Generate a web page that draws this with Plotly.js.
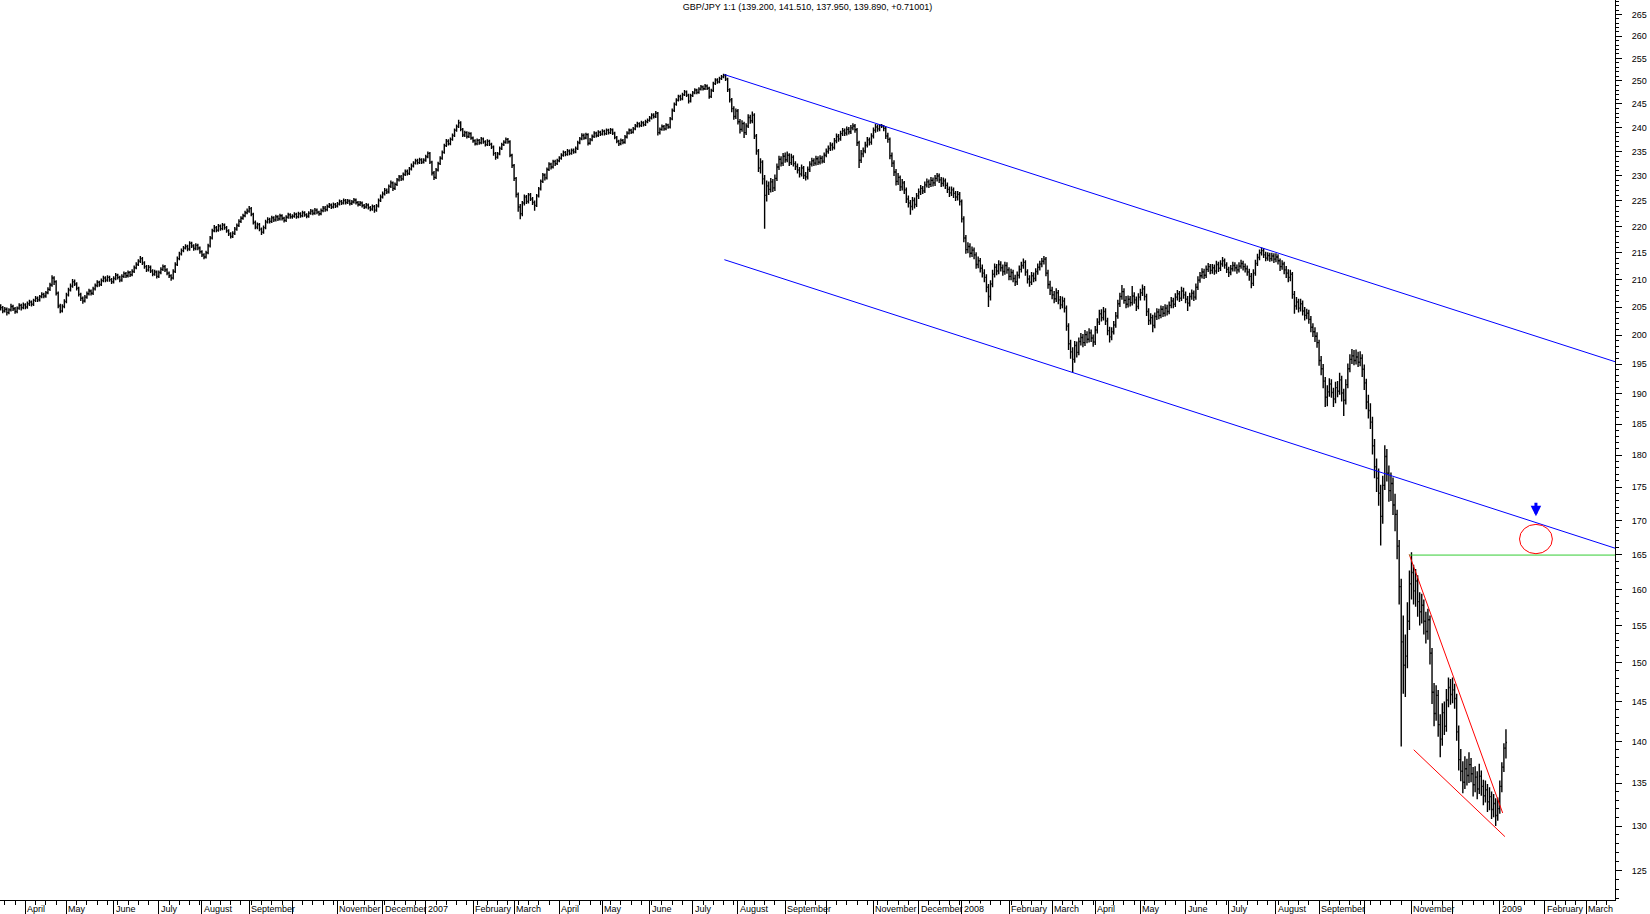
<!DOCTYPE html>
<html><head><meta charset="utf-8">
<script src="https://cdn.plot.ly/plotly-3.0.1.min.js"></script>
<style>html,body{margin:0;padding:0;background:#fff;overflow:hidden}#chart{width:1650px;height:914px}</style>
</head><body><div id="chart"></div>
<script>
// GBP/JPY daily bars, 16 Mar 2006 .. 6 Jan 2009 (one bar per weekday)
const open = [205.0,
204.9,204.3,204.6,204.0,204.5,205.1,204.7,204.2,204.8,205.3,204.9,205.4,
205.0,205.6,205.9,205.5,206.2,206.6,206.3,206.9,207.3,207.0,207.6,208.2,
209.0,210.3,209.6,207.5,205.2,204.3,205.1,206.0,
207.2,208.1,208.8,209.6,209.2,208.4,207.3,206.6,206.1,206.8,207.4,207.9,207.5,208.3,208.9,209.5,209.1,209.8,210.3,209.9,210.4,210.0,209.6,
210.2,210.8,210.4,209.9,210.6,211.1,210.7,211.3,210.9,211.5,212.2,212.8,213.4,213.9,213.1,212.4,211.8,212.3,211.6,211.0,211.4,210.6,
211.3,211.9,212.4,211.8,211.2,210.7,210.3,211.5,212.8,213.9,214.8,215.4,215.9,216.2,215.7,216.8,216.3,215.8,216.4,215.9,215.2,
214.6,214.2,215.0,216.3,217.8,219.2,219.8,219.3,220.1,219.6,220.3,219.8,219.2,218.6,218.1,218.7,219.5,220.2,221.0,221.6,222.1,222.7,223.0,
223.5,222.4,220.8,219.9,220.4,219.5,218.9,219.8,220.9,221.4,221.0,221.7,221.3,221.9,221.5,222.1,221.6,221.2,221.8,222.3,221.9,
222.0,222.4,221.9,222.5,222.1,222.7,222.3,222.0,222.6,223.0,222.6,223.2,222.8,222.5,223.1,223.6,223.3,223.9,224.2,223.8,224.3,224.0,
224.4,224.9,224.6,225.1,224.7,225.0,224.5,224.8,225.2,224.7,224.3,224.6,224.1,223.8,224.2,223.7,223.4,223.9,223.2,224.0,225.1,225.8,
226.4,227.1,226.8,227.9,228.6,227.5,228.3,229.2,229.8,229.4,230.3,230.9,230.5,231.4,232.0,232.6,233.1,232.7,233.3,232.8,233.2,
233.9,234.6,232.8,230.6,229.7,231.2,232.5,233.6,234.8,236.2,237.1,236.6,237.5,238.3,239.4,240.2,241.0,239.6,238.4,238.9,238.1,238.7,237.8,
237.2,236.6,237.3,236.8,237.6,237.0,236.4,237.1,236.5,235.9,234.6,233.8,234.5,235.6,236.4,236.9,237.5,237.0,234.2,232.1,
229.5,226.3,223.8,222.5,224.6,225.8,224.9,226.2,225.4,224.7,224.1,226.0,227.4,228.9,230.2,229.6,231.3,232.4,231.8,232.9,232.5,233.1,
233.6,234.2,234.8,234.4,235.1,234.6,235.2,234.9,235.6,236.8,237.6,238.3,237.8,238.5,236.7,237.4,238.1,238.8,238.3,239.0,238.6,
239.2,238.7,239.4,238.9,239.5,238.8,237.9,237.1,236.6,237.3,236.9,238.0,238.8,239.4,239.0,239.7,240.3,240.8,240.4,241.0,240.6,241.2,241.5,
242.0,242.6,242.3,243.0,238.9,239.6,240.2,239.7,240.5,240.1,241.8,243.6,244.9,245.8,246.6,246.1,247.0,247.6,246.9,245.6,246.8,
247.4,248.0,247.5,248.2,248.7,248.3,248.9,248.4,246.6,247.9,249.4,250.2,249.8,250.5,250.9,251.2,250.4,248.1,245.9,244.0,242.3,243.5,
241.2,239.6,240.8,238.9,240.3,242.1,241.4,242.6,238.2,235.1,231.6,232.8,229.4,226.1,228.0,227.3,228.8,227.6,229.5,231.8,233.4,232.6,234.0,
233.3,234.2,232.7,233.8,232.5,231.9,231.2,230.4,231.6,230.1,229.8,231.3,232.4,233.1,232.6,233.5,232.8,233.6,233.0,234.2,
235.0,235.6,236.3,235.8,237.2,238.1,237.6,238.7,239.3,238.8,239.6,239.1,239.9,240.3,239.5,236.8,233.2,234.5,235.1,236.3,237.4,236.9,238.2,
239.4,240.1,239.7,240.4,240.3,239.8,238.2,237.5,234.1,232.6,230.8,228.9,229.7,227.8,228.6,227.2,225.4,224.6,223.9,225.1,224.3,226.0,
226.8,227.5,227.0,228.2,228.8,228.3,229.1,228.6,229.5,230.0,229.2,228.5,229.0,228.1,227.3,226.6,227.2,226.5,225.8,226.3,224.9,
221.5,217.8,215.6,216.2,214.9,215.5,214.6,212.8,213.5,212.1,211.2,210.4,208.6,206.9,209.2,211.0,212.3,211.6,212.8,212.2,211.5,212.6,211.8,
210.6,211.3,210.2,209.6,210.8,211.9,212.6,213.2,211.4,210.1,209.5,210.7,210.2,211.5,212.3,212.9,213.4,213.8,211.2,209.1,208.0,
207.2,206.5,207.6,206.3,205.4,206.1,204.8,201.6,198.5,197.1,195.8,198.2,197.0,198.9,199.6,198.7,200.1,199.3,200.4,199.5,198.8,
200.9,202.3,203.8,203.1,204.2,202.5,200.8,199.7,200.6,201.8,203.4,205.6,206.9,207.8,206.2,205.5,206.4,205.8,207.0,206.3,205.1,206.8,
207.6,208.3,206.9,204.2,202.6,203.1,201.7,203.3,204.1,203.5,204.6,203.9,204.8,204.2,205.3,206.1,205.5,206.8,207.4,206.6,207.9,207.2,
206.4,205.7,206.9,207.5,206.8,208.6,209.9,210.7,211.4,210.8,211.9,212.4,211.7,212.2,211.6,212.8,212.1,212.9,213.5,212.7,211.9,
211.3,212.0,212.6,212.2,211.8,212.5,213.0,212.4,212.0,211.4,210.6,209.3,211.2,213.0,214.1,215.0,215.4,214.6,214.0,214.5,213.9,214.4,213.8,
214.2,213.5,212.4,212.9,211.8,211.2,210.4,211.0,207.3,205.2,205.9,204.8,205.6,204.3,203.5,203.9,202.8,201.4,200.6,199.8,198.7,
195.6,194.2,192.1,189.4,190.3,191.6,190.2,189.1,191.0,190.4,192.3,190.1,188.9,191.5,194.2,195.8,196.4,195.6,196.2,195.3,196.0,194.1,
191.8,188.6,187.2,185.3,181.5,178.2,176.4,174.1,170.6,175.3,179.8,177.2,174.5,175.6,172.3,170.9,166.2,160.4,152.8,149.7,150.9,155.6,160.8,
162.4,159.8,161.2,158.3,156.9,157.8,155.6,154.2,155.8,151.3,146.2,143.5,145.8,142.1,140.3,143.6,141.9,145.2,146.8,145.9,
146.5,145.4,141.2,137.8,136.4,135.1,136.7,135.9,137.2,136.1,134.8,135.7,134.3,135.8,134.6,133.5,134.2,132.8,133.4,131.9,132.6,131.2,132.0,
134.6,136.9,139.2];

const high = [
205.5,205.2,205.0,204.9,204.8,205.6,205.4,205.0,205.1,205.7,205.6,205.8,
205.7,206.0,206.3,206.2,206.5,207.0,206.9,207.2,207.7,207.6,207.9,208.6,
209.4,210.8,210.6,209.9,207.8,205.6,205.5,206.4,
207.6,208.5,209.3,210.1,210.0,209.5,208.7,207.6,206.9,207.2,207.8,208.3,208.2,208.7,209.3,209.9,209.8,210.2,210.7,210.6,210.8,210.7,210.3,
210.6,211.2,211.1,210.7,211.0,211.5,211.4,211.7,211.6,211.9,212.6,213.2,213.8,214.4,214.2,213.4,212.7,212.7,212.6,211.9,211.8,211.7,
211.7,212.3,212.8,212.7,212.1,211.5,211.0,211.9,213.2,214.3,215.2,215.8,216.3,216.6,216.5,217.2,217.1,216.6,216.8,216.7,216.2,
215.5,214.9,215.4,216.7,218.2,219.6,220.3,220.1,220.5,220.4,220.7,220.6,220.1,219.5,218.9,219.1,219.9,220.6,221.4,222.0,222.5,223.1,223.5,
224.0,223.8,222.7,221.2,220.8,220.7,219.8,220.2,221.3,221.8,221.7,222.1,222.0,222.3,222.2,222.5,222.4,221.9,222.2,222.7,222.6,
222.4,222.8,222.7,222.9,222.8,223.1,223.0,222.6,223.0,223.4,223.3,223.6,223.5,223.1,223.5,224.0,224.0,224.3,224.6,224.5,224.7,224.6,
224.8,225.3,225.2,225.5,225.4,225.4,225.3,225.2,225.6,225.5,225.0,225.0,224.9,224.4,224.6,224.5,224.0,224.3,224.2,224.4,225.5,226.3,
226.9,227.6,227.5,228.3,229.1,228.9,228.7,229.6,230.2,230.2,230.7,231.3,231.3,231.8,232.5,233.0,233.5,233.5,233.7,233.6,233.6,
234.3,235.0,234.9,233.1,231.0,231.6,232.9,234.0,235.2,236.6,237.6,237.5,237.9,238.7,239.8,240.6,241.6,241.3,239.9,239.3,239.2,239.1,239.0,
238.1,237.5,237.7,237.6,238.0,237.9,237.3,237.5,237.4,236.8,236.2,234.9,234.9,236.0,236.8,237.3,237.9,237.8,237.3,234.5,
232.4,229.8,226.7,224.4,225.0,226.3,226.2,226.6,226.6,225.8,225.1,226.4,227.8,229.3,230.6,230.5,231.7,232.8,232.7,233.3,233.3,233.5,
234.0,234.6,235.2,235.1,235.5,235.4,235.6,235.6,236.0,237.2,238.0,238.8,238.7,238.9,238.8,237.8,238.5,239.2,239.1,239.4,239.3,
239.6,239.5,239.8,239.7,239.9,239.8,239.1,238.2,237.4,237.7,237.6,238.4,239.2,239.8,239.7,240.1,240.7,241.2,241.1,241.4,241.3,241.6,241.9,
242.4,243.0,243.0,243.5,243.3,240.0,240.6,240.5,240.9,240.8,242.2,244.0,245.3,246.2,247.0,247.0,247.4,248.0,247.9,247.2,247.2,
247.8,248.4,248.3,248.6,249.1,249.0,249.3,249.2,248.7,248.3,249.8,250.6,250.6,250.9,251.3,251.6,251.5,250.7,248.4,246.3,244.5,244.0,
243.9,241.8,241.5,241.2,240.9,242.8,242.7,243.4,243.0,238.6,235.5,233.6,233.2,230.2,229.1,228.9,229.6,229.4,230.3,232.5,234.1,234.0,234.7,
234.8,235.0,234.6,234.5,234.2,233.0,232.5,231.8,232.3,232.0,230.8,231.9,233.0,233.7,233.6,234.1,234.0,234.2,234.1,234.8,
235.6,236.2,236.9,236.8,237.8,238.7,238.6,239.3,239.9,239.8,240.2,240.1,240.5,240.9,240.7,239.9,237.2,235.3,235.8,237.0,238.0,237.9,238.8,
240.0,240.7,240.6,240.7,240.7,240.5,240.2,238.9,237.9,234.8,233.2,231.4,230.6,230.1,229.4,229.0,227.7,226.1,225.2,225.8,225.7,226.6,
227.5,228.2,228.0,228.9,229.5,229.3,229.8,229.7,230.2,230.6,230.5,229.8,229.7,229.5,228.7,227.9,227.9,227.7,227.0,227.0,226.8,
225.3,222.0,218.4,217.0,216.8,216.2,216.0,215.1,214.3,214.0,212.8,211.9,211.0,209.2,209.9,211.8,213.0,212.9,213.6,213.4,212.8,213.3,213.2,
212.3,212.0,211.8,210.9,211.5,212.6,213.3,213.9,213.6,211.9,210.8,211.4,211.3,212.1,213.0,213.5,214.0,214.4,214.2,211.8,209.8,
208.7,207.9,208.4,208.1,207.0,206.9,206.7,205.3,202.1,199.2,197.9,199.0,198.9,199.6,200.4,200.2,200.9,200.7,201.2,201.0,200.1,
201.6,203.0,204.5,204.6,205.0,204.8,203.1,201.5,201.4,202.5,204.1,206.3,207.6,209.0,208.4,207.0,207.1,207.0,208.8,207.7,206.9,207.5,
208.3,209.1,208.8,207.4,204.8,203.9,203.6,204.0,204.8,204.7,205.3,205.2,205.5,205.4,206.0,206.8,206.7,207.5,208.1,207.9,208.7,208.5,
207.8,207.0,207.6,208.2,208.0,209.3,210.6,211.4,212.1,212.0,212.6,213.1,212.9,212.9,212.8,213.5,213.3,213.6,214.2,213.9,213.2,
212.4,212.7,213.3,213.2,212.8,213.2,213.7,213.5,213.0,212.6,212.0,211.2,211.9,213.7,214.8,215.6,216.0,215.9,215.2,215.1,215.0,215.0,214.9,
214.9,214.7,213.9,213.6,213.3,212.5,211.9,211.8,211.4,207.9,206.8,206.5,206.5,206.2,205.0,204.7,204.5,203.4,202.1,201.4,200.5,
199.2,196.4,195.0,192.8,191.4,192.6,192.4,191.0,192.0,192.1,193.5,193.0,190.8,192.4,195.1,196.7,197.6,197.4,197.5,197.1,197.2,196.7,
194.9,192.5,189.8,188.4,186.2,182.6,179.5,177.9,175.4,176.8,181.6,181.0,178.4,177.3,176.5,174.0,171.6,167.1,161.5,156.4,153.8,158.2,162.7,
165.3,163.5,162.9,162.0,159.6,159.4,158.6,156.9,157.3,156.4,152.0,147.4,147.1,146.5,143.4,144.8,145.0,146.6,148.1,147.9,
148.1,147.3,146.0,142.0,139.1,137.6,138.2,137.9,138.7,138.0,136.9,137.0,136.4,137.3,136.5,135.4,135.3,134.9,134.5,134.0,133.7,133.2,133.3,
135.3,137.5,139.8,141.51];

const low = [
204.4,203.9,204.0,203.5,203.7,204.2,204.3,203.8,203.9,204.5,204.4,204.6,
204.6,204.7,205.2,205.1,205.2,205.9,205.9,206.0,206.6,206.6,206.7,207.3,
207.9,208.7,209.0,207.1,204.8,203.9,204.0,204.8,
205.7,206.9,207.8,208.5,208.8,208.0,206.9,206.1,205.6,205.8,206.5,207.1,207.1,207.2,208.0,208.6,208.7,208.8,209.5,209.5,209.6,209.6,209.2,
209.3,209.9,210.0,209.5,209.6,210.3,210.3,210.4,210.5,210.6,211.2,211.9,212.5,213.1,212.7,212.0,211.4,211.5,211.2,210.6,210.7,210.2,
210.3,211.0,211.6,211.4,210.8,210.3,209.8,210.0,211.2,212.5,213.6,214.5,215.1,215.6,215.3,215.4,215.9,215.4,215.5,215.5,214.8,
214.2,213.8,213.9,214.7,216.0,217.5,218.9,218.9,219.0,219.2,219.3,219.4,218.8,218.2,217.7,217.8,218.4,219.2,219.9,220.7,221.3,221.8,222.4,
222.7,222.0,220.4,219.5,219.5,219.1,218.4,218.6,219.5,220.6,220.6,220.7,220.9,221.0,221.1,221.2,221.2,220.8,220.9,221.5,221.5,
221.5,221.7,221.5,221.6,221.7,221.8,221.9,221.6,221.7,222.3,222.2,222.3,222.4,222.1,222.2,222.8,222.9,223.0,223.6,223.4,223.5,223.6,
223.7,224.1,224.2,224.3,224.3,224.4,224.1,224.2,224.5,224.3,223.9,224.0,223.7,223.4,223.5,223.3,223.0,223.1,222.7,222.9,223.7,224.8,
225.5,226.1,226.4,226.5,227.6,227.0,227.2,228.0,228.9,229.0,229.1,230.0,230.1,230.2,231.1,231.7,232.3,232.3,232.4,232.4,232.5,
232.9,233.6,232.4,230.1,229.2,229.4,230.9,232.2,233.3,234.5,235.9,236.2,236.3,237.2,238.0,239.1,239.9,239.2,238.0,238.0,237.7,237.8,237.4,
236.8,236.2,236.3,236.4,236.5,236.6,236.0,236.1,236.1,235.5,234.1,233.3,233.5,234.2,235.3,236.1,236.6,236.6,233.8,231.6,
229.0,225.7,222.9,221.4,222.0,224.1,224.4,224.5,225.0,224.2,223.1,223.8,225.7,227.1,228.6,229.1,229.3,231.0,231.3,231.5,232.0,232.2,
232.8,233.3,233.9,234.0,234.1,234.2,234.3,234.5,234.6,235.3,236.5,237.3,237.4,237.5,236.2,236.4,237.1,237.8,237.9,238.0,238.2,
238.3,238.3,238.4,238.5,238.6,238.4,237.5,236.7,236.1,236.3,236.5,236.6,237.7,238.5,238.6,238.7,239.4,240.0,240.0,240.1,240.2,240.3,240.9,
241.2,241.7,241.9,242.0,238.3,238.5,239.3,239.3,239.4,239.7,239.8,241.5,243.3,244.6,245.5,245.7,245.8,246.7,246.5,245.1,245.3,
246.5,247.1,247.1,247.2,247.9,247.9,248.0,248.0,246.1,246.3,247.6,249.1,249.4,249.5,250.2,250.6,250.0,247.6,245.3,243.2,241.6,241.8,
240.6,238.7,239.1,237.8,238.4,239.9,240.8,240.9,237.6,234.3,230.8,230.5,228.3,219.6,224.9,226.2,226.7,226.8,227.0,229.0,231.2,231.9,232.0,
232.7,232.8,232.0,232.2,231.9,231.2,230.5,229.7,229.9,229.4,229.1,229.3,230.8,231.9,232.0,232.1,232.2,232.3,232.5,232.6,
233.8,234.5,235.1,235.2,235.4,236.7,237.0,237.2,238.2,238.2,238.3,238.5,238.6,239.4,238.9,236.1,231.6,232.6,233.8,234.6,235.8,236.2,236.4,
237.7,238.9,239.1,239.2,239.9,239.2,237.6,236.8,233.4,231.8,230.0,228.1,228.2,227.0,227.1,226.4,224.6,223.7,222.3,223.2,223.5,223.8,
225.4,226.2,226.4,226.6,227.7,227.6,227.8,227.9,228.0,228.9,228.6,227.8,227.9,227.4,226.6,225.8,226.0,225.6,225.0,225.1,224.1,
220.8,217.0,214.8,214.9,214.1,214.2,213.8,212.0,212.1,211.3,210.4,209.5,207.7,205.0,206.2,208.6,210.4,210.8,211.0,211.5,210.7,210.9,211.1,
209.9,209.9,209.5,208.8,209.0,210.2,211.3,212.0,210.7,209.3,208.7,209.0,209.5,209.7,210.9,211.7,212.3,212.8,210.6,208.3,207.2,
206.4,205.7,205.9,205.5,204.6,204.8,204.0,200.8,197.4,195.9,193.5,195.2,196.1,196.5,198.2,197.9,198.1,198.6,198.7,198.8,198.0,
198.3,200.3,201.8,202.4,202.6,201.8,200.0,198.7,199.1,200.1,201.3,202.9,205.0,206.3,205.6,204.8,204.9,205.1,205.3,205.6,204.3,204.6,
206.2,207.0,206.2,203.4,201.8,201.9,200.5,201.2,202.7,202.8,203.0,203.2,203.3,203.5,203.7,204.8,204.8,205.0,206.2,205.9,206.1,206.5,
205.7,204.3,205.1,206.3,206.1,206.3,208.1,209.4,210.2,210.1,210.3,211.4,211.0,211.1,210.9,211.1,211.4,211.6,212.4,212.0,211.2,
210.5,210.8,211.5,211.5,211.1,211.3,212.0,211.7,211.3,210.7,209.8,208.4,208.8,210.7,212.5,213.6,214.5,214.0,213.4,213.5,213.3,213.4,213.1,
213.2,212.8,211.6,211.8,211.0,210.3,209.5,209.7,206.5,203.8,204.5,204.0,204.2,203.5,202.6,202.8,202.0,200.5,199.7,198.8,197.8,
194.7,193.1,190.9,187.8,187.9,189.5,189.3,187.8,188.4,189.4,189.8,188.7,186.3,188.2,190.9,193.6,195.0,194.8,194.9,194.5,194.6,192.8,
190.6,187.4,185.9,184.2,180.1,176.4,174.3,172.2,166.3,169.5,174.6,175.9,172.8,172.9,170.8,168.4,164.3,157.9,139.4,146.0,145.6,149.3,154.4,
158.6,157.9,157.6,156.2,155.0,155.3,153.8,152.6,153.1,149.8,144.7,141.9,142.6,140.6,138.1,139.5,140.8,141.2,144.3,144.6,
144.8,144.1,140.1,136.5,135.2,133.8,134.3,134.7,135.0,135.1,133.4,133.9,133.1,133.7,133.5,132.4,132.7,131.6,131.8,130.8,131.0,130.0,130.6,
131.4,133.9,136.3,137.95];

const close = [
204.9,204.3,204.6,204.0,204.5,205.1,204.7,204.2,204.8,205.3,204.9,205.4,
205.0,205.6,205.9,205.5,206.2,206.6,206.3,206.9,207.3,207.0,207.6,208.2,
209.0,210.3,209.6,207.5,205.2,204.3,205.1,206.0,
207.2,208.1,208.8,209.6,209.2,208.4,207.3,206.6,206.1,206.8,207.4,207.9,207.5,208.3,208.9,209.5,209.1,209.8,210.3,209.9,210.4,210.0,209.6,
210.2,210.8,210.4,209.9,210.6,211.1,210.7,211.3,210.9,211.5,212.2,212.8,213.4,213.9,213.1,212.4,211.8,212.3,211.6,211.0,211.4,210.6,
211.3,211.9,212.4,211.8,211.2,210.7,210.3,211.5,212.8,213.9,214.8,215.4,215.9,216.2,215.7,216.8,216.3,215.8,216.4,215.9,215.2,
214.6,214.2,215.0,216.3,217.8,219.2,219.8,219.3,220.1,219.6,220.3,219.8,219.2,218.6,218.1,218.7,219.5,220.2,221.0,221.6,222.1,222.7,223.0,
223.5,222.4,220.8,219.9,220.4,219.5,218.9,219.8,220.9,221.4,221.0,221.7,221.3,221.9,221.5,222.1,221.6,221.2,221.8,222.3,221.9,
222.0,222.4,221.9,222.5,222.1,222.7,222.3,222.0,222.6,223.0,222.6,223.2,222.8,222.5,223.1,223.6,223.3,223.9,224.2,223.8,224.3,224.0,
224.4,224.9,224.6,225.1,224.7,225.0,224.5,224.8,225.2,224.7,224.3,224.6,224.1,223.8,224.2,223.7,223.4,223.9,223.2,224.0,225.1,225.8,
226.4,227.1,226.8,227.9,228.6,227.5,228.3,229.2,229.8,229.4,230.3,230.9,230.5,231.4,232.0,232.6,233.1,232.7,233.3,232.8,233.2,
233.9,234.6,232.8,230.6,229.7,231.2,232.5,233.6,234.8,236.2,237.1,236.6,237.5,238.3,239.4,240.2,241.0,239.6,238.4,238.9,238.1,238.7,237.8,
237.2,236.6,237.3,236.8,237.6,237.0,236.4,237.1,236.5,235.9,234.6,233.8,234.5,235.6,236.4,236.9,237.5,237.0,234.2,232.1,
229.5,226.3,223.8,222.5,224.6,225.8,224.9,226.2,225.4,224.7,224.1,226.0,227.4,228.9,230.2,229.6,231.3,232.4,231.8,232.9,232.5,233.1,
233.6,234.2,234.8,234.4,235.1,234.6,235.2,234.9,235.6,236.8,237.6,238.3,237.8,238.5,236.7,237.4,238.1,238.8,238.3,239.0,238.6,
239.2,238.7,239.4,238.9,239.5,238.8,237.9,237.1,236.6,237.3,236.9,238.0,238.8,239.4,239.0,239.7,240.3,240.8,240.4,241.0,240.6,241.2,241.5,
242.0,242.6,242.3,243.0,238.9,239.6,240.2,239.7,240.5,240.1,241.8,243.6,244.9,245.8,246.6,246.1,247.0,247.6,246.9,245.6,246.8,
247.4,248.0,247.5,248.2,248.7,248.3,248.9,248.4,246.6,247.9,249.4,250.2,249.8,250.5,250.9,251.2,250.4,248.1,245.9,244.0,242.3,243.5,
241.2,239.6,240.8,238.9,240.3,242.1,241.4,242.6,238.2,235.1,231.6,232.8,229.4,226.1,228.0,227.3,228.8,227.6,229.5,231.8,233.4,232.6,234.0,
233.3,234.2,232.7,233.8,232.5,231.9,231.2,230.4,231.6,230.1,229.8,231.3,232.4,233.1,232.6,233.5,232.8,233.6,233.0,234.2,
235.0,235.6,236.3,235.8,237.2,238.1,237.6,238.7,239.3,238.8,239.6,239.1,239.9,240.3,239.5,236.8,233.2,234.5,235.1,236.3,237.4,236.9,238.2,
239.4,240.1,239.7,240.4,240.3,239.8,238.2,237.5,234.1,232.6,230.8,228.9,229.7,227.8,228.6,227.2,225.4,224.6,223.9,225.1,224.3,226.0,
226.8,227.5,227.0,228.2,228.8,228.3,229.1,228.6,229.5,230.0,229.2,228.5,229.0,228.1,227.3,226.6,227.2,226.5,225.8,226.3,224.9,
221.5,217.8,215.6,216.2,214.9,215.5,214.6,212.8,213.5,212.1,211.2,210.4,208.6,206.9,209.2,211.0,212.3,211.6,212.8,212.2,211.5,212.6,211.8,
210.6,211.3,210.2,209.6,210.8,211.9,212.6,213.2,211.4,210.1,209.5,210.7,210.2,211.5,212.3,212.9,213.4,213.8,211.2,209.1,208.0,
207.2,206.5,207.6,206.3,205.4,206.1,204.8,201.6,198.5,197.1,195.8,198.2,197.0,198.9,199.6,198.7,200.1,199.3,200.4,199.5,198.8,
200.9,202.3,203.8,203.1,204.2,202.5,200.8,199.7,200.6,201.8,203.4,205.6,206.9,207.8,206.2,205.5,206.4,205.8,207.0,206.3,205.1,206.8,
207.6,208.3,206.9,204.2,202.6,203.1,201.7,203.3,204.1,203.5,204.6,203.9,204.8,204.2,205.3,206.1,205.5,206.8,207.4,206.6,207.9,207.2,
206.4,205.7,206.9,207.5,206.8,208.6,209.9,210.7,211.4,210.8,211.9,212.4,211.7,212.2,211.6,212.8,212.1,212.9,213.5,212.7,211.9,
211.3,212.0,212.6,212.2,211.8,212.5,213.0,212.4,212.0,211.4,210.6,209.3,211.2,213.0,214.1,215.0,215.4,214.6,214.0,214.5,213.9,214.4,213.8,
214.2,213.5,212.4,212.9,211.8,211.2,210.4,211.0,207.3,205.2,205.9,204.8,205.6,204.3,203.5,203.9,202.8,201.4,200.6,199.8,198.7,
195.6,194.2,192.1,189.4,190.3,191.6,190.2,189.1,191.0,190.4,192.3,190.1,188.9,191.5,194.2,195.8,196.4,195.6,196.2,195.3,196.0,194.1,
191.8,188.6,187.2,185.3,181.5,178.2,176.4,174.1,170.6,175.3,179.8,177.2,174.5,175.6,172.3,170.9,166.2,160.4,152.8,149.7,150.9,155.6,160.8,
162.4,159.8,161.2,158.3,156.9,157.8,155.6,154.2,155.8,151.3,146.2,143.5,145.8,142.1,140.3,143.6,141.9,145.2,146.8,145.9,
146.5,145.4,141.2,137.8,136.4,135.1,136.7,135.9,137.2,136.1,134.8,135.7,134.3,135.8,134.6,133.5,134.2,132.8,133.4,131.9,132.6,131.2,132.0,
134.6,136.9,139.2,139.89];

// Month labels, April 2006 .. March 2009 (blank where the original omits the label)
const monthLabels = ["April","May","June","July","August","September","","November","December",
 "2007","February","March","April","May","June","July","August","September","","November","December",
 "2008","February","March","April","May","June","July","August","September","","November","",
 "2009","February","March"];
const priceTicks = [125,130,135,140,145,150,155,160,165,170,175,180,185,190,195,200,205,210,215,220,225,230,235,240,245,250,255,260,265];

// Drawn trend lines (bar index, price)
const channelX = [352.4, 786.1];
const upperChannelY = [251.4, 195.4];
const lowerChannelY = [213.7, 165.9];
const wedgeTopX = [685.9, 731.4];
const wedgeTopY = [165.0, 131.5];
const wedgeBottomX = [688.1, 732.5];
const wedgeBottomY = [139.0, 128.8];
const supportX = [685.9, 786.1];
const supportY = [164.9, 164.9];
const targetX = [739.6, 755.6];
const targetY = [165.1, 169.4];
const arrowPoint = [747.6, 170.6];
const titleText = "GBP/JPY 1:1 (139.200, 141.510, 137.950, 139.890, +0.71001)";

const FONT = "Liberation Sans, Arial, sans-serif";
if (![open, high, low].every(a => a.length === close.length)) console.error('length mismatch', open.length, high.length, low.length, close.length);

// weekday calendar -> bar index
const days = [];
for (let t = Date.UTC(2006, 2, 1); t <= Date.UTC(2009, 2, 31); t += 86400000) {
  const d = new Date(t); const wd = d.getUTCDay();
  if (wd !== 0 && wd !== 6) days.push(d);
}
const base = days.findIndex(d => d.getUTCFullYear() === 2006 && d.getUTCMonth() === 2 && d.getUTCDate() === 16);
const allMonthStarts = []; let prevKey = null;
const mondays = [];
days.forEach((d, k) => {
  const key = d.getUTCFullYear() * 12 + d.getUTCMonth();
  if (key !== prevKey) { allMonthStarts.push(k - base); prevKey = key; }
  if (d.getUTCDay() === 1) mondays.push(k - base);
});
const xRange = [-0.34, 786.1];
const monthStarts = allMonthStarts.filter(v => v >= xRange[0]);   // April 2006 onwards
const x = close.map((_, i) => i);
const majorX = monthStarts.filter(v => v <= xRange[1]);
const minorX = mondays.filter(v => v >= xRange[0] && v <= xRange[1] && !allMonthStarts.includes(v));
const minorY = [];
for (let v = 122; v <= 268; v++) if (v % 5 !== 0) minorY.push(v);

const lineTrace = (xs, ys, color) => ({type: 'scatter', mode: 'lines', x: xs, y: ys,
  line: {color: color, width: 1}, hoverinfo: 'skip', showlegend: false});

const traces = [
  {type: 'ohlc', x: x, open: open, high: high, low: low, close: close,
   increasing: {line: {color: '#000000', width: 1.4}}, decreasing: {line: {color: '#000000', width: 1.4}},
   tickwidth: 0.5, hoverinfo: 'skip', showlegend: false},
  lineTrace(channelX, upperChannelY, '#0000ff'),
  lineTrace(channelX, lowerChannelY, '#0000ff'),
  lineTrace(wedgeTopX, wedgeTopY, '#ff0000'),
  lineTrace(wedgeBottomX, wedgeBottomY, '#ff0000'),
  lineTrace(supportX, supportY, '#33cc33')
];

const annotations = [];
monthLabels.forEach((lab, m) => {
  if (!lab) return;
  const a = {xref: 'x', yref: 'paper', x: monthStarts[m], y: -0.0035, xanchor: 'left', yanchor: 'top',
    text: lab, showarrow: false, borderpad: 0, xshift: 1,
    font: {family: FONT, size: 9, color: '#000000'}};
  if (lab === '2008') a.bgcolor = '#ffffff';
  annotations.push(a);
});
annotations.push({xref: 'x', yref: 'y', x: arrowPoint[0], y: Math.log10(arrowPoint[1]),
  showarrow: true, text: '', ax: 0, ay: -15, arrowhead: 2, arrowsize: 0.7, arrowwidth: 3,
  arrowcolor: '#0000ff', standoff: 0});

const layout = {
  width: 1650, height: 914,
  margin: {l: 0, r: 35, t: 0, b: 14, pad: 0},
  paper_bgcolor: '#ffffff', plot_bgcolor: '#ffffff',
  font: {family: FONT, size: 9, color: '#000000'},
  title: {text: titleText, x: 0.5, xref: 'paper', xanchor: 'center',
          y: 1 - 7 / 914, yref: 'container', yanchor: 'middle',
          font: {family: FONT, size: 9, color: '#000000'}},
  showlegend: false,
  xaxis: {type: 'linear', range: xRange, rangeslider: {visible: false},
    showgrid: false, zeroline: false, showline: true, linecolor: '#000000', linewidth: 1,
    ticks: 'outside', ticklen: 14, tickwidth: 1, tickcolor: '#000000',
    tickmode: 'array', tickvals: majorX, showticklabels: false,
    minor: {tickmode: 'array', tickvals: minorX, ticks: 'outside', ticklen: 4, tickwidth: 1, tickcolor: '#000000', showgrid: false},
    fixedrange: true},
  yaxis: {type: 'log', range: [Math.log10(121.83), Math.log10(268.4)], side: 'right',
    showgrid: false, zeroline: false, showline: true, linecolor: '#000000', linewidth: 1,
    ticks: 'outside', ticklen: 6, tickwidth: 1, tickcolor: '#000000',
    tickmode: 'array', tickvals: priceTicks, ticktext: priceTicks.map(String),
    tickfont: {family: FONT, size: 9, color: '#000000'}, ticklabelstandoff: 8,
    minor: {tickmode: 'array', tickvals: minorY, ticks: 'outside', ticklen: 3, tickwidth: 1, tickcolor: '#000000', showgrid: false},
    fixedrange: true},
  shapes: [{type: 'circle', xref: 'x', yref: 'y', x0: targetX[0], x1: targetX[1], y0: targetY[0], y1: targetY[1],
    line: {color: '#ff0000', width: 1}}],
  annotations: annotations
};

Plotly.newPlot('chart', traces, layout, {staticPlot: true, displayModeBar: false});
</script>
</body></html>
